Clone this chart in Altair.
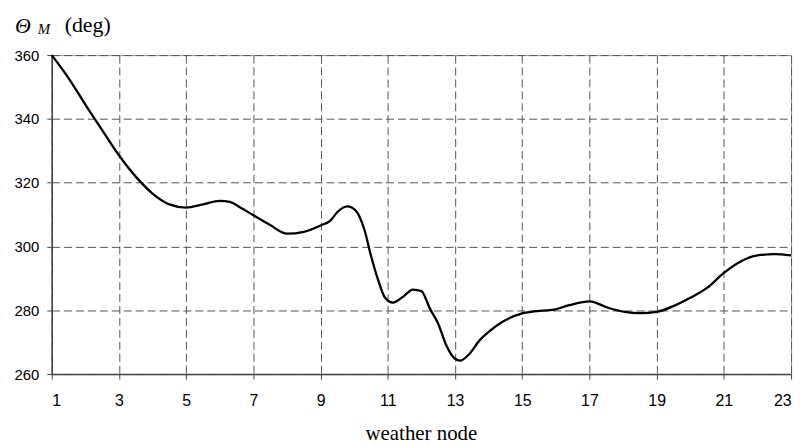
import altair as alt
import pandas as pd

# weather node positions and angle values
node = [1, 1.5, 2, 2.5, 3, 3.5, 4, 4.5, 5, 5.5, 6, 6.3, 6.6, 7, 7.5, 8, 8.5,
        9, 9.3, 9.5, 9.8, 10.05, 10.3, 10.5, 10.7, 10.92, 11.15, 11.45, 11.75,
        12.0, 12.25, 12.5, 12.75, 13.0, 13.15, 13.4, 13.75, 14.0, 14.4, 15.0,
        15.6, 15.9, 16.4, 17.0, 17.55, 18.05, 18.5, 19.0, 19.5, 20.0, 20.5,
        21.0, 21.5, 22.0, 22.5, 23.0]
theta = [360, 352.8, 344.5, 336.5, 328.6, 321.9, 316.6, 313.2, 312.2, 313.2,
         314.3, 314.0, 312.3, 309.8, 306.7, 304.0, 304.6,
         306.6, 308.2, 310.8, 312.6, 311.2, 305.4, 297.1, 289.9, 283.9, 282.4,
         284.2, 286.5, 286.0, 280.6, 275.8, 268.8, 264.8, 264.2, 266.0, 270.8,
         273.2, 276.3, 279.0, 279.9, 280.1, 281.6, 282.8, 280.8, 279.5, 279.1,
         279.5, 281.3, 283.9, 287.0, 291.7, 295.3, 297.2, 297.6, 297.2]

x_ticks = [1, 3, 5, 7, 9, 11, 13, 15, 17, 19, 21, 23]
y_ticks = [260, 280, 300, 320, 340, 360]

title_symbol = "Θ"
title_sub = "M"
title_unit = "(deg)"
x_title = "weather node"

df = pd.DataFrame({"node": node, "theta": theta})

W, H = 744, 321

line = alt.Chart(df).mark_line(
    color="black", strokeWidth=2.3, interpolate="monotone"
).encode(
    x=alt.X("node:Q",
            scale=alt.Scale(domain=[1, 23], nice=False, zero=False),
            axis=alt.Axis(values=x_ticks, title=None, format="d",
                          grid=True, gridDash=[8, 4], gridColor="#555",
                          gridWidth=1, tickSize=5, tickColor="#444",
                          domainColor="#444", domainWidth=1.5,
                          labelFont="Liberation Sans", labelFontSize=16,
                          labelColor="black", labelPadding=14)),
    y=alt.Y("theta:Q",
            scale=alt.Scale(domain=[260, 360], nice=False, zero=False),
            axis=alt.Axis(values=y_ticks, title=None, format="d",
                          grid=True, gridDash=[8, 4], gridColor="#555",
                          gridWidth=1, tickSize=5, tickColor="#444",
                          domainColor="#444", domainWidth=1.5,
                          labelFont="Liberation Sans", labelFontSize=15,
                          labelColor="black", labelPadding=8)),
)

def label(txt, x, y, size, italic, align="left"):
    return alt.Chart(pd.DataFrame({"t": [txt]})).mark_text(
        font="Liberation Serif", fontSize=size,
        fontStyle="italic" if italic else "normal",
        align=align, baseline="alphabetic", color="black"
    ).encode(text="t:N", x=alt.value(x), y=alt.value(y))

t1 = label(title_symbol, -37, -22, 22, True)
t2 = label(title_sub, -14, -21, 15, True)
t3 = label(title_unit, 13, -23, 22, False)
t4 = label(x_title, W / 2, 387, 21, False, align="center")

chart = alt.layer(line, t1, t2, t3, t4).properties(
    width=W, height=H,
    autosize=alt.AutoSizeParams(type="none"),
    padding={"left": 44, "top": 46, "right": 10, "bottom": 72},
).configure_view(stroke="#999", strokeWidth=1)

chart.save("out.html", embed_options={"renderer": "svg", "actions": False})
